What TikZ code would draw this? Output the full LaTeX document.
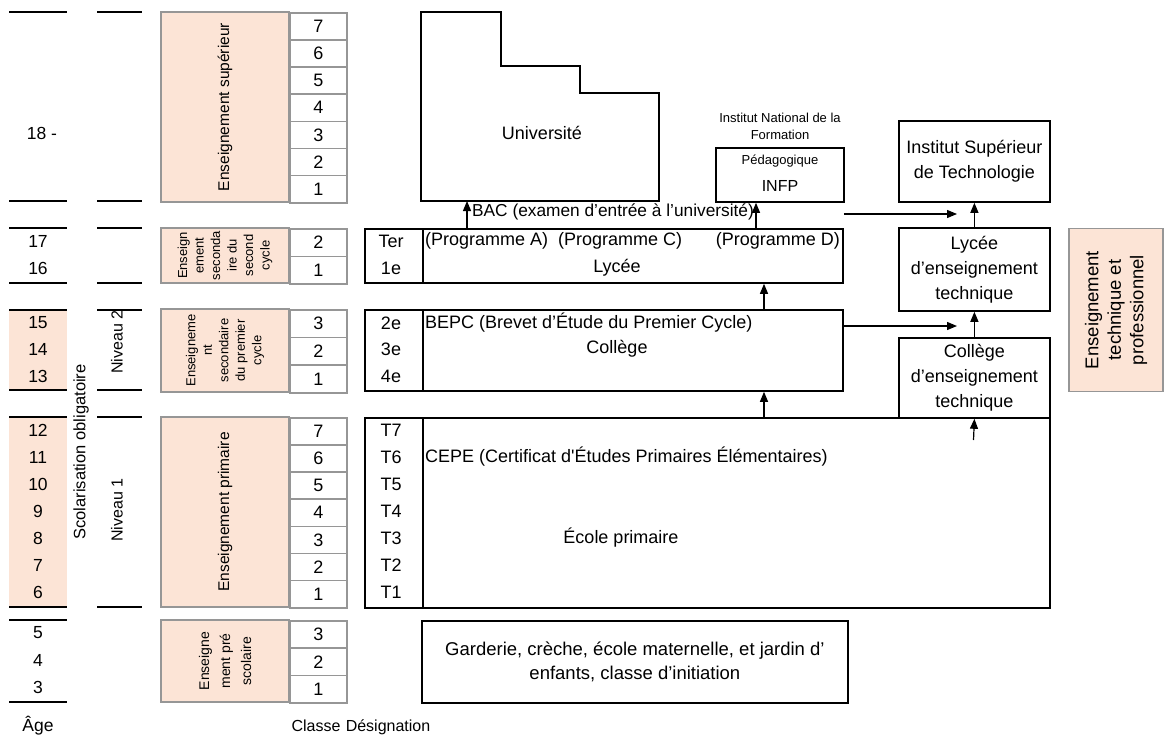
\documentclass[tikz,border=0pt]{standalone}
\usepackage{fontspec}
\setmainfont{Liberation Sans}[Ligatures=TeXOff]
\usetikzlibrary{arrows.meta}
\definecolor{saumon}{RGB}{252,228,214}
\definecolor{cadre}{RGB}{150,150,150}

% one column of numbered class cells: prefix, top y, count, row height
\newcommand\colcells[4]{%
  \foreach \k in {1,...,#3} {
    \node[cell, minimum height=#4, anchor=north west] (#1\k) at (289,{#2+#4*(#3-\k)}) {\k};
  }}

\begin{document}
\begin{tikzpicture}[x=1pt,y=-1pt,
  txt/.style={font=\fontsize{18}{21}\selectfont, inner sep=0pt},
  agetxt/.style={font=\fontsize{17.5}{21}\selectfont, inner sep=0pt},
  foot/.style={font=\fontsize{16}{19}\selectfont, inner sep=0pt, anchor=base},
  ptxt/.style={font=\fontsize{13}{15}\selectfont, inner sep=0pt},
  multi/.style={font=\fontsize{18}{25}\selectfont, inner sep=0pt, align=center},
  small/.style={font=\fontsize{13}{16.5}\selectfont, align=center},
  band/.style={fill=saumon, draw=cadre, line width=1.6pt, inner sep=0pt},
  cell/.style={fill=white, draw=cadre, line width=1.6pt, minimum width=57, inner sep=0pt,
               font=\fontsize{18}{21}\selectfont},
  boite/.style={draw=black, line width=1.8pt, inner sep=0pt, anchor=north west},
  regle/.style={line width=2.6pt},
  arr/.style={line width=1.2pt, -{Triangle[length=10pt,width=8pt]}},
]
\useasboundingbox (0,0) rectangle (1169,736);

% ---------- age column ----------
\fill[saumon] (9,310) rectangle (67,390);
\fill[saumon] (9,417) rectangle (67,607);
\foreach \ya/\yb in {12/201, 228/283, 310/390, 417/607} {
  \draw[regle] (9,\ya) -- (67,\ya);
  \draw[regle] (9,\yb) -- (67,\yb);
  \draw[regle] (97,\ya) -- (142,\ya);
  \draw[regle] (97,\yb) -- (142,\yb);
}
\draw[regle] (9,620) -- (67,620);
\draw[regle] (9,702) -- (67,702);

\node[agetxt] (a18) at (42,133) {18 -};
\node[agetxt] (a17) at (38,241) {17};
\node[agetxt] (a16) at (38,268) {16};
\node[agetxt] (a15) at (38,323) {15};
\node[agetxt] (a14) at (38,349) {14};
\node[agetxt] (a13) at (38,376) {13};
\foreach \n [count=\i from 0] in {12,11,10,9,8,7,6} {
  \node[agetxt] (a\n) at (38,{430+27*\i}) {\n};
}
\node[agetxt] (a5) at (38,633) {5};
\node[agetxt] (a4) at (38,660) {4};
\node[agetxt] (a3) at (38,687) {3};

\node[rotate=90, inner sep=0pt, font=\fontsize{16.5}{20}\selectfont] (scol) at (81,452) {Scolarisation obligatoire};
\node[rotate=90, inner sep=0pt, font=\fontsize{16}{20}\selectfont] (niv2) at (117,342) {Niveau 2};
\node[rotate=90, inner sep=0pt, font=\fontsize{16}{20}\selectfont] (niv1) at (117,510) {Niveau 1};

% ---------- levels of education ----------
\node[band, rotate=90, minimum width=190, minimum height=128, font=\fontsize{15.5}{19}\selectfont]
  (sup) at (225,107) {Enseignement supérieur};
\colcells{sup}{12}{7}{27.14}

\node[band, rotate=90, minimum width=55, minimum height=128, small]
  (sec2) at (225,255.5) {Enseign\\ement\\seconda\\ire du\\second\\cycle};
\colcells{secb}{228}{2}{27.5}

\node[band, rotate=90, minimum width=83, minimum height=128, small]
  (sec1) at (225,350.5) {Enseigneme\\nt\\secondaire\\du premier\\cycle};
\colcells{seca}{309}{3}{27.67}

\node[band, rotate=90, minimum width=190, minimum height=128, font=\fontsize{15.5}{19}\selectfont]
  (prim) at (225,512) {Enseignement primaire};
\colcells{prim}{417}{7}{27.14}

\node[band, rotate=90, minimum width=82, minimum height=128, font=\fontsize{14}{21}\selectfont, align=center]
  (pre) at (225,661) {Enseigne\\ment pré\\scolaire};
\colcells{pre}{620}{3}{27.33}

% ---------- institutions ----------
\draw[boite] (421,12) -- (501,12) -- (501,66) -- (580,66) -- (580,93)
  -- (659,93) -- (659,201) -- (421,201) -- cycle;
\node[txt] (univ) at (542,133) {Université};

\node[ptxt] (infpa) at (780,118) {Institut National de la};
\node[ptxt] (infpb) at (780,135) {Formation};
\node[boite, minimum width=128, minimum height=54] (infp) at (715,147) {};
\node[ptxt] (infpc) at (780,161) {Pédagogique};
\node[inner sep=0pt, font=\fontsize{16}{19}\selectfont] (infpd) at (780,186) {INFP};

\node[inner sep=0pt, font=\fontsize{17.3}{21}\selectfont] (bac) at (613,212) {BAC (examen d’entrée à l’université)};

% lycée
\node[boite, minimum width=58, minimum height=54] (lycc) at (364,228) {};
\node[boite, minimum width=420, minimum height=54] (lyc) at (422,228) {};
\node[txt] (ter) at (391,241) {Ter};
\node[txt] (c1e) at (391,268) {1e};
\node[txt, anchor=west] (progac) at (425,241) {(Programme A)\ \ (Programme C)};
\node[txt, anchor=east] (progd) at (840,241) {(Programme D)};
\node[txt] (lycl) at (617,268) {Lycée};

% collège
\node[boite, minimum width=58, minimum height=81] (colc) at (364,309) {};
\node[boite, minimum width=420, minimum height=81] (col) at (422,309) {};
\node[txt] (c2e) at (391,323) {2e};
\node[txt] (c3e) at (391,349) {3e};
\node[txt] (c4e) at (391,376) {4e};
\node[txt, anchor=west] (bepc) at (425,323) {BEPC (Brevet d’Étude du Premier Cycle)};
\node[txt] (coll) at (617,349) {Collège};

% école primaire
\node[boite, minimum width=58, minimum height=190] (pric) at (364,417) {};
\node[boite, minimum width=627, minimum height=190] (pri) at (422,417) {};
\foreach \t [count=\i from 0] in {7,6,5,4,3,2,1} {
  \node[txt] (t\t) at (391,{430+27*\i}) {T\t};
}
\node[txt, anchor=west] (cepe) at (425,457) {CEPE (Certificat d'Études Primaires Élémentaires)};
\node[txt] (ecol) at (621,538) {École primaire};

% préscolaire
\node[boite, minimum width=426, minimum height=82, font=\fontsize{18.5}{23.5}\selectfont, align=center]
  (gard) at (421,620)
  {Garderie, crèche, école maternelle, et jardin d’\\enfants, classe d’initiation};

% technical track
\node[boite, minimum width=151, minimum height=81, multi] (ist) at (898,120)
  {Institut Supérieur\\de Technologie};
\node[boite, minimum width=151, minimum height=83, multi] (lyt) at (898,227)
  {Lycée\\d’enseignement\\technique};
\node[boite, minimum width=151, minimum height=80, multi] (cet) at (898,337)
  {Collège\\d’enseignement\\technique};

\node[band, rotate=90, minimum width=163, minimum height=94,
      font=\fontsize{18.5}{22.5}\selectfont, align=center]
  (tech) at (1116,310) {Enseignement\\technique et\\professionnel};

% footer labels
\node[foot, font=\fontsize{17.5}{21}\selectfont] (age) at (38,731) {Âge};
\node[foot] (classe) at (316,731) {Classe};
\node[foot] (desig) at (388,731) {Désignation};

% ---------- arrows ----------
\coordinate (ub) at (467,201);
\coordinate (xb) at (756,0);
\coordinate (xc) at (764,0);
\coordinate (h1) at (957,214);
\coordinate (h2) at (957,326);
\coordinate (tp) at (973.5,440);
\draw[arr] (lyc.north -| ub) -- (ub);
\draw[arr] (lyc.north -| xb) -- (infp.south -| xb);
\draw[arr] (lyc.east |- h1) -- (h1);
\draw[arr] (lyt.north) -- (ist.south);
\draw[arr] (col.north -| xc) -- (lyc.south -| xc);
\draw[arr] (col.east |- h2) -- (h2);
\draw[arr] (cet.north) -- (lyt.south);
\draw[arr] (pri.north -| xc) -- (col.south -| xc);
\draw[arr] (tp) -- (cet.south);
\end{tikzpicture}
\end{document}
